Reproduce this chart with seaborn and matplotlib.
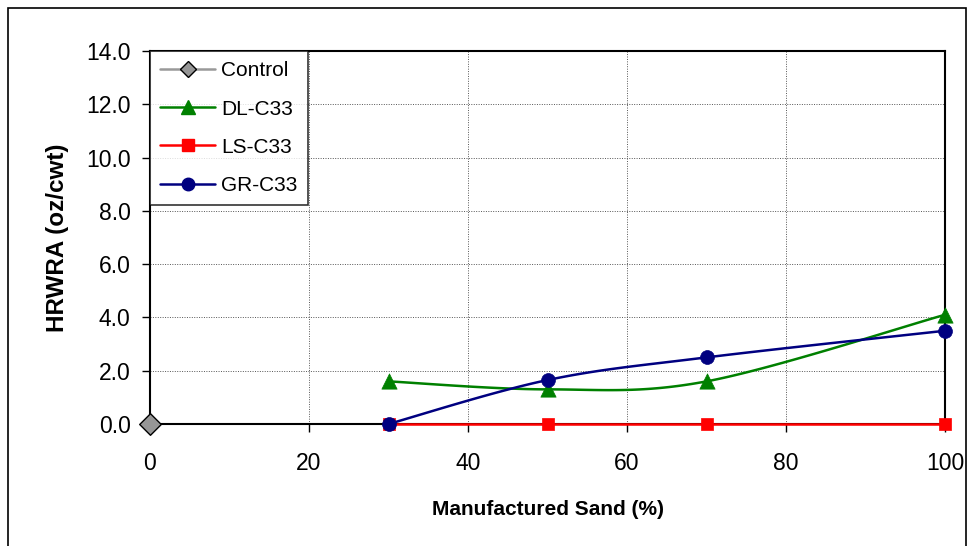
import numpy as np
import pandas as pd
import matplotlib
matplotlib.use("Agg")
import matplotlib.pyplot as plt
from matplotlib.lines import Line2D
from matplotlib.patches import Rectangle
import seaborn as sns

# Data
sand_pct = [30, 50, 70, 100]
control_x = [0]
control_y = [0.0]
dl_c33 = [1.6, 1.3, 1.6, 4.1]
ls_c33 = [0.0, 0.0, 0.0, 0.0]
gr_c33 = [0.0, 1.65, 2.5, 3.5]
x_ticks = [0, 20, 40, 60, 80, 100]
y_ticks = [0, 2, 4, 6, 8, 10, 12, 14]

sns.set_theme(style="white")
plt.rcParams["font.family"] = ["Liberation Sans", "DejaVu Sans"]
plt.rcParams["text.color"] = "black"
plt.rcParams["axes.labelcolor"] = "black"

fig = plt.figure(figsize=(9.69, 5.46), dpi=100)
ax = fig.add_axes([150 / 969, 1 - 424 / 546, 795 / 969, 373 / 546])

X_RANGE, Y_RANGE = 100.0, 14.0
PX_W, PX_H = 795.0, 373.0


def smooth(xs, ys, n=40):
    """Cubic Bezier smoothing through points (Catmull-Rom style, in display proportions)."""
    P = np.column_stack([np.asarray(xs, float) / X_RANGE * PX_W,
                         np.asarray(ys, float) / Y_RANGE * PX_H])
    out = [P[0]]
    for i in range(len(P) - 1):
        p0 = P[i - 1] if i > 0 else P[i]
        p1, p2 = P[i], P[i + 1]
        p3 = P[i + 2] if i + 2 < len(P) else P[i + 1]
        c1 = p1 + (p2 - p0) / 6.0
        c2 = p2 - (p3 - p1) / 6.0
        t = np.linspace(0, 1, n)[1:, None]
        seg = ((1 - t) ** 3) * p1 + 3 * ((1 - t) ** 2) * t * c1 + 3 * (1 - t) * t ** 2 * c2 + t ** 3 * p2
        out.extend(seg)
    out = np.array(out)
    return out[:, 0] / PX_W * X_RANGE, out[:, 1] / PX_H * Y_RANGE


series = [
    ("LS-C33", ls_c33, "#FF0000", "s", 9),
    ("DL-C33", dl_c33, "#008000", "^", 11),
    ("GR-C33", gr_c33, "#000080", "o", 10),
]

# Gridlines
for gx in x_ticks[1:-1]:
    ax.axvline(gx, color="#555555", lw=0.7, ls=(0, (1, 1.5)), zorder=0)
for gy in y_ticks[1:-1]:
    ax.axhline(gy, color="#555555", lw=0.7, ls=(0, (1, 1.5)), zorder=0)

# Curves and markers
for name, vals, color, mk, ms in series:
    sx, sy = smooth(sand_pct, vals)
    curve = pd.DataFrame({"x": sx, "y": sy})
    sns.lineplot(data=curve, x="x", y="y", ax=ax, color=color, lw=1.8,
                 sort=False, estimator=None, zorder=3)
for line in ax.get_lines():
    line.set_clip_on(False)
for name, vals, color, mk, ms in series:
    pts = pd.DataFrame({"x": sand_pct, "y": vals})
    sns.scatterplot(data=pts, x="x", y="y", ax=ax, color=color, marker=mk,
                    s=ms ** 2, edgecolor=color, linewidth=0.5, zorder=4, clip_on=False)

ctrl = pd.DataFrame({"x": control_x, "y": control_y})
sns.scatterplot(data=ctrl, x="x", y="y", ax=ax, color="#969696", marker="D",
                s=11 ** 2, edgecolor="black", linewidth=1.0, zorder=5, clip_on=False)

ax.set_xlim(0, 100)
ax.set_ylim(0, 14)
ax.set_xticks(x_ticks)
ax.set_xticklabels([str(v) for v in x_ticks])
ax.set_yticks(y_ticks)
ax.set_yticklabels([f"{v:.1f}" for v in y_ticks])
ax.tick_params(axis="both", direction="out", length=6, width=1, color="black",
               labelsize=16.5, labelcolor="black", bottom=True, left=True)
ax.tick_params(axis="x", pad=14)
ax.tick_params(axis="y", pad=8)
for sp in ax.spines.values():
    sp.set_color("black")
    sp.set_linewidth(1.5)
    sp.set_zorder(2)
ax.set_xlabel("Manufactured Sand (%)", fontsize=15, fontweight="bold", labelpad=18)
ax.set_ylabel("HRWRA (oz/cwt)", fontsize=17.5, fontweight="bold", labelpad=12)
ax.grid(False)

handles = [
    Line2D([], [], color="#999999", lw=1.8, marker="D", ms=8,
           markerfacecolor="#969696", markeredgecolor="black", label="Control"),
    Line2D([], [], color="#008000", lw=1.8, marker="^", ms=10,
           markerfacecolor="#008000", markeredgecolor="#008000", label="DL-C33"),
    Line2D([], [], color="#FF0000", lw=1.8, marker="s", ms=8,
           markerfacecolor="#FF0000", markeredgecolor="#FF0000", label="LS-C33"),
    Line2D([], [], color="#000080", lw=1.8, marker="o", ms=9,
           markerfacecolor="#000080", markeredgecolor="#000080", label="GR-C33"),
]
leg = ax.legend(handles=handles, loc="upper left", bbox_to_anchor=(0, 1),
                frameon=True, fancybox=False, shadow=False, fontsize=15,
                handlelength=2.6, handletextpad=0.3, borderpad=0.5,
                labelspacing=0.92, borderaxespad=0)
leg.get_frame().set_edgecolor("black")
leg.get_frame().set_linewidth(1.2)
leg.get_frame().set_facecolor("white")
leg.set_zorder(10)

# Outer chart border
fig.patches.append(Rectangle((8 / 969, -0.01), 958 / 969, 1 - 8 / 546 + 0.01,
                             transform=fig.transFigure, fill=False,
                             edgecolor="black", lw=1.2))

fig.savefig("out.png", dpi=100)
